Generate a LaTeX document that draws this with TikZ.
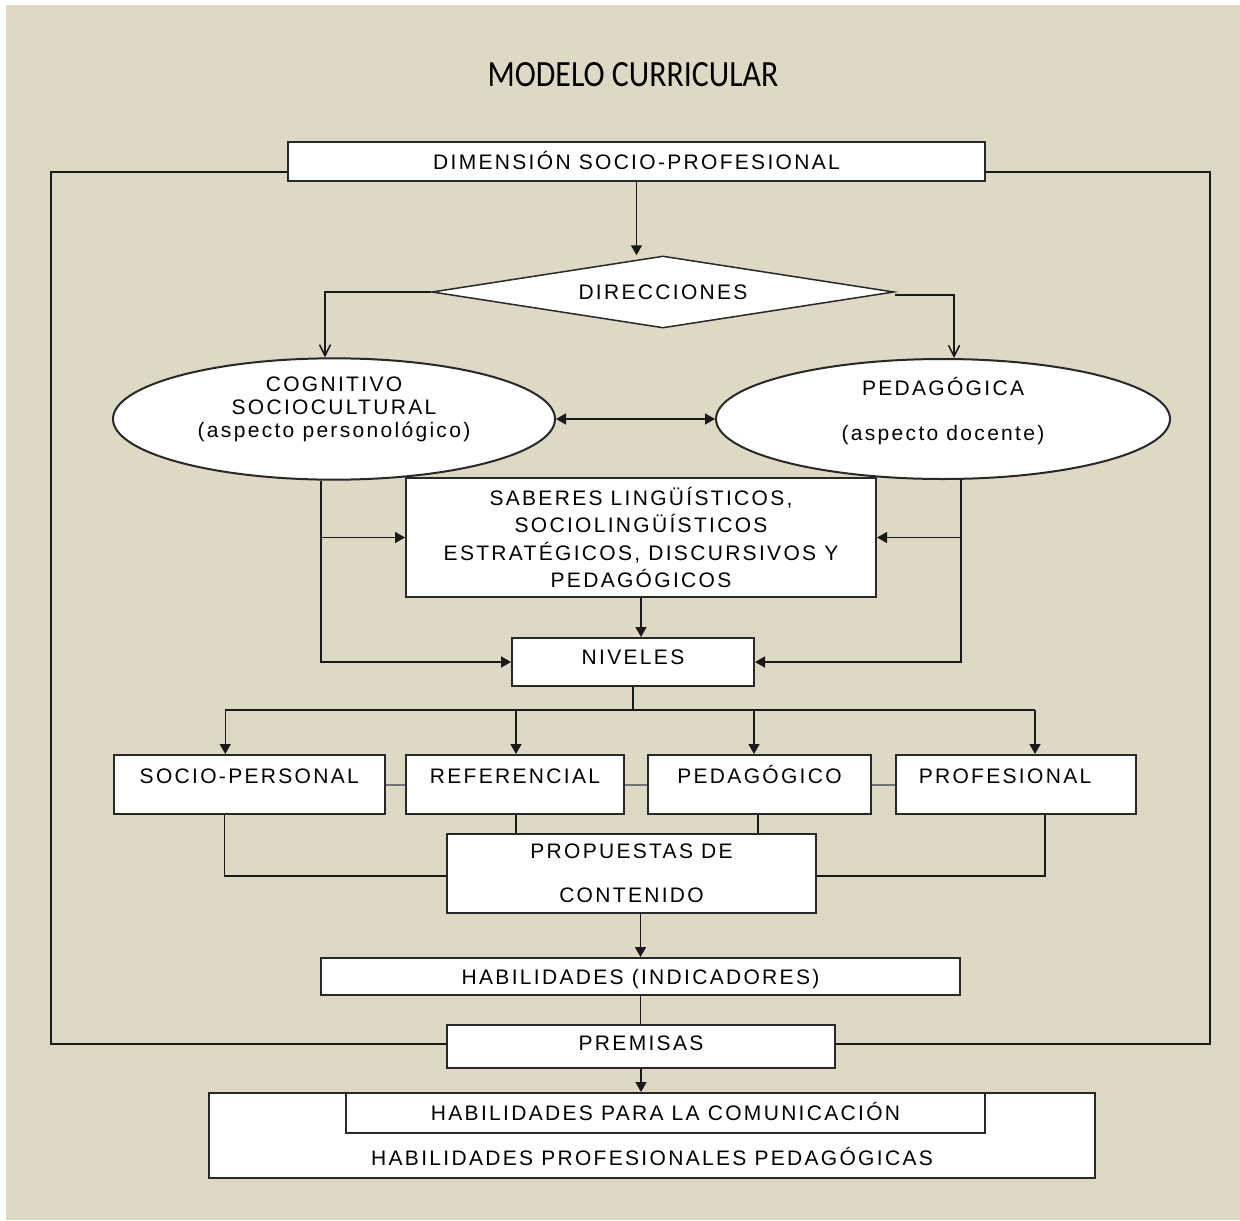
\documentclass[tikz,border=0pt]{standalone}
\usepackage{fontspec}
\setmainfont{Liberation Sans}[LetterSpace=11]
\newfontfamily\titlefont{Carlito}
\usetikzlibrary{shapes.geometric,arrows.meta,calc}
\definecolor{bg}{RGB}{221,217,196}
\definecolor{edge}{RGB}{40,40,40}
\newcommand{\liftup}[2]{\raisebox{0pt}[\height][\dimexpr\depth+#1\relax]{#2}}
\begin{document}
\begin{tikzpicture}[x=0.5pt,y=-0.5pt,
  line width=0.75pt,
  tri/.style={-{Triangle[length=5pt,width=5.5pt]}},
  tritwo/.style={{Triangle[length=5pt,width=5.5pt]}-{Triangle[length=5pt,width=5.5pt]}},
  barb/.style={-{Straight Barb[length=5.5pt,width=5.5pt]}},
  txt/.style={font=\fontsize{10.5pt}{12.6pt}\selectfont},
  otxt/.style={font=\fontsize{10.5pt}{11.3pt}\selectfont},
  box/.style={txt, draw=edge, line width=1pt, fill=white, rectangle, inner sep=0pt,
    text height=7.52pt, text depth=0pt},
  mbox/.style={txt, draw=edge, line width=1pt, fill=white, rectangle, inner sep=0pt, align=center},
  oval/.style={otxt, draw=edge, line width=1pt, fill=white, ellipse, inner sep=0pt},
  link/.style={draw=black!90},
  sidelink/.style={draw=black!55, line width=1pt}
]
\useasboundingbox (0,0) rectangle (1240,1220);
\fill[white] (0,0) rectangle (1240,1220);
\fill[bg] (6,5) rectangle (1240,1220);

% title
\node[font=\titlefont\fontsize{18.5pt}{20pt}\selectfont] (title) at (633,75)
  {\scalebox{0.86}[1]{MODELO CURRICULAR}};

% nodes
\node[box, minimum width=348.5pt, minimum height=19.5pt] (dim) at (636.5,161.5) {DIMENSIÓN SOCIO-PROFESIONAL};
\node[txt, diamond, draw=edge, line width=0.75pt, fill=white, shape aspect=6.4,
      minimum width=231pt, minimum height=36pt, inner sep=0pt] (dir) at (663,292) {DIRECCIONES};
\node[oval, minimum width=221pt, minimum height=60pt] (lell) at (334,419)
  {\liftup{9pt}{\begin{tabular}{@{}c@{}}COGNITIVO\\SOCIOCULTURAL\\(aspecto personológico)\end{tabular}}};
\node[oval, minimum width=227pt, minimum height=60pt] (rell) at (943,419)
  {\liftup{6.5pt}{\begin{tabular}{@{}c@{}}PEDAGÓGICA\\[11.2pt](aspecto docente)\end{tabular}}};
\node[mbox, minimum width=235pt, minimum height=59.5pt] (sab) at (641,537.5)
  {SABERES LINGÜÍSTICOS,\\[1.05pt]SOCIOLINGÜÍSTICOS\\[1.05pt]ESTRATÉGICOS, DISCURSIVOS Y\\[1.05pt]PEDAGÓGICOS};
\node[box, minimum width=121pt, minimum height=24pt, text depth=5pt] (niv) at (633,662) {NIVELES};

\node[box, minimum width=135.75pt, minimum height=29.5pt, text depth=8.5pt] (sp) at (249.25,784.5) {SOCIO-PERSONAL};
\node[box, minimum width=109pt, minimum height=29.5pt, text depth=8.5pt] (ref) at (515,784.5) {REFERENCIAL};
\node[box, minimum width=111.5pt, minimum height=29.5pt, text depth=8.5pt] (ped) at (759.5,784.5) {PEDAGÓGICO};
\node[box, minimum width=120pt, minimum height=29.5pt, text depth=8.5pt] (prof) at (1016,784.5) {\kern-11pt PROFESIONAL};

\node[mbox, minimum width=184.5pt, minimum height=39.5pt] (prop) at (631.5,873.5)
  {PROPUESTAS DE\\[9.4pt]CONTENIDO};
\node[box, minimum width=319.5pt, minimum height=18.5pt] (hab) at (640.5,976.5) {HABILIDADES (INDICADORES)};
\node[box, minimum width=194pt, minimum height=21.5pt, text depth=3.5pt] (prem) at (641,1046.5) {PREMISAS};
\node[box, minimum width=443pt, minimum height=42.5pt, text height=30pt] (big) at (652,1135.5)
  {HABILIDADES PROFESIONALES PEDAGÓGICAS};
\node[box, minimum width=319.5pt, minimum height=20pt] (inner) at (665.5,1113) {HABILIDADES PARA LA COMUNICACIÓN};

% outer loop
\coordinate (lc) at (51,1044);
\coordinate (rc) at (1210,1044);
\draw[link] ($(dim.west)+(0,10.5)$) -| (lc) -- (lc -| prem.west);
\draw[link] ($(dim.east)+(0,10.5)$) -| (rc) -- (rc -| prem.east);

% top flow
\draw[link, tri] (dim.south) -- (dim.south |- dir.north);
\draw[link, barb] (dir.west) -| ($(lell.north)+(-9,0)$);
\draw[link, barb] ($(dir.east)+(0,3)$) -| ($(rell.north)+(11,0)$);
\draw[link, tritwo] (lell.east) -- (rell.west);

% side verticals
\coordinate (lv) at ($(lell.south)+(-13,0)$);
\coordinate (rv) at ($(rell.south)+(18,0)$);
\draw[link, tri] (lv) |- (niv.west);
\draw[link, tri] (rv) |- (niv.east);
\draw[link, tri] (lv |- sab.west) -- (sab.west);
\draw[link, tri] (rv |- sab.east) -- (sab.east);
\draw[link, tri] (sab.south) -- (sab.south |- niv.north);

% levels bus
\coordinate (bus) at (633,710);
\coordinate (t1) at ($(sp.north)+(-24,0)$);
\coordinate (t2) at ($(ref.north)+(1,0)$);
\coordinate (t3) at ($(ped.north)+(-5.5,0)$);
\coordinate (t4) at ($(prof.north)+(19,0)$);
\draw[link] (niv.south) -- (niv.south |- bus);
\draw[link] (t1 |- bus) -- (t4 |- bus);
\foreach \t in {t1,t2,t3,t4} \draw[link, tri] (\t |- bus) -- (\t);

% links between levels
\draw[sidelink] (sp.east) -- (ref.west);
\draw[sidelink] (ref.east) -- (ped.west);
\draw[sidelink] (ped.east) -- (prof.west);

% levels to proposals
\coordinate (b1) at ($(sp.south)+(-25,0)$);
\coordinate (b2) at ($(ref.south)+(1,0)$);
\coordinate (b3) at ($(ped.south)+(-1.5,0)$);
\coordinate (b4) at ($(prof.south)+(29,0)$);
\draw[link] (b1) |- ($(prop.west)+(0,2.5)$);
\draw[link] (b2) -- (b2 |- prop.north);
\draw[link] (b3) -- (b3 |- prop.north);
\draw[link] (b4) |- ($(prop.east)+(0,2.5)$);

% lower flow
\draw[link, tri] (hab.north |- prop.south) -- (hab.north);
\draw[link] (hab.south) -- (hab.south |- prem.north);
\draw[link, tri] (prem.south) -- (prem.south |- big.north);
\end{tikzpicture}
\end{document}
